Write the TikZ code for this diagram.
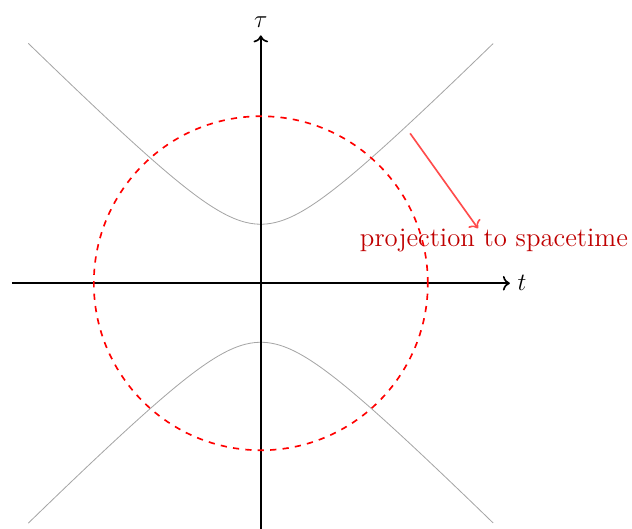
\documentclass[tikz,border=0pt]{standalone}
\usepackage{amsmath, amssymb}
\usetikzlibrary{arrows.meta, positioning}

\begin{document}
\begin{tikzpicture}[scale=1]
  \useasboundingbox (-4.42,-4.15) rectangle (6.29,4.80);
  % Hyperbolas
  \draw[gray!70, domain=-2.08:2.08, smooth, samples=60, variable=\s] plot ({sinh(\s)},{cosh(\s)});
  \draw[gray!70, domain=-2.08:2.08, smooth, samples=60, variable=\s] plot ({sinh(\s)},{-cosh(\s)});
  % Axes
  \draw[thick, ->] (-4.22,0) -- (4.22,0) node[right, font=\large] (tlab) {$t$};
  \draw[thick, ->] (0,-4.2) -- (0,4.2) node[above, font=\large] (taulab) {$\tau$};
  % Circle
  \draw[thick, red, dashed] (0,0) circle (2.83);
  % Projection arrow
  \coordinate (start) at (2.53,2.54);
  \coordinate (tip) at (3.68,0.93);
  \draw[thick, red!70, ->] (start) -- (tip);
  \node[red!75!black, font=\fontsize{12.9}{15}\selectfont] (proj) at (3.95,0.72) {projection to spacetime};
\end{tikzpicture}
\end{document}
